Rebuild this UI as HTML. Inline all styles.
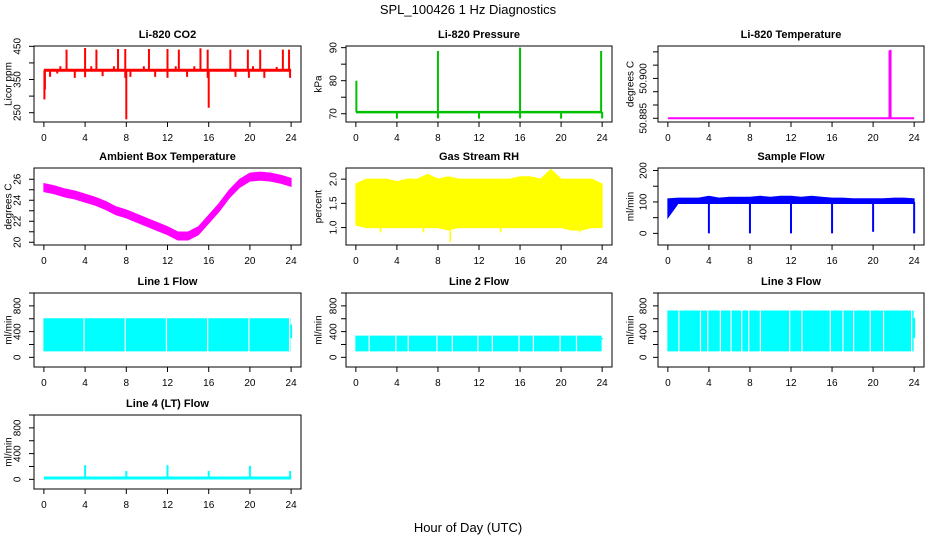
<!DOCTYPE html>
<html><head><meta charset="utf-8"><style>
html,body{margin:0;padding:0;background:#fff;}
svg{display:block;font-family:"Liberation Sans",Arial,sans-serif;}
</style></head><body>
<svg id="c" width="936" height="540" viewBox="0 0 936 540" xmlns="http://www.w3.org/2000/svg">
<text x="468" y="14" text-anchor="middle" font-size="13">SPL_100426  1 Hz Diagnostics</text>
<text x="468" y="532" text-anchor="middle" font-size="13">Hour of Day (UTC)</text>
</svg>
<script>
// ---------- data ----------
const xTicks = [0,4,8,12,16,20,24];
// CO2
const co2BaseHours = [0,24];
const co2BaseVals = [378,378];
const co2SpikeHours = [2.2,4.0,5.1,7.2,7.9,10.2,12.0,13.1,15.2,15.9,18.1,19.8,21.0,23.2,23.8,1.6,4.6,6.8,9.7,12.8,14.6,20.3,22.6];
const co2SpikeVals = [440,445,440,442,442,442,442,440,444,440,440,440,440,440,440,390,390,390,390,390,390,390,388];
const co2DipHours = [0.05,0.1,8.0,7.9,16.0,15.9,12.0,19.9,3.0,4.0,0.6,23.9,8.4,1.3,10.8,13.9,18.6,21.4,5.7];
const co2DipVals = [290,320,230,355,265,355,355,355,355,357,358,355,358,368,358,358,358,355,360];
// Pressure
const presBaseHours = [0,24];
const presBaseVals = [70.5,70.5];
const presSpikeHours = [0.05,8.0,16.0,23.9];
const presSpikeVals = [80,89,90,89];
const presDipHours = [4,8,12,16,20,24];
const presDipVals = [68.5,68.6,68.5,68.6,68.5,68.6];
// Li-820 temperature
const tempBaseHours = [0,24];
const tempBaseVals = [50.885,50.885];
const tempSpikeHours = [21.6,21.7];
const tempSpikeVals = [50.9105,50.9108];
// Ambient box temperature
const hours = [0,1,2,3,4,5,6,7,8,9,10,11,12,13,14,15,16,17,18,19,20,21,22,23,24];
const ambCenter = [25.2,25.0,24.7,24.5,24.2,23.9,23.5,23.0,22.7,22.3,21.9,21.5,21.1,20.6,20.6,21.1,22.2,23.3,24.6,25.6,26.2,26.3,26.2,26.0,25.7];
// Gas stream RH
const rhLow = [1.05,1.0,1.0,1.0,1.0,1.0,1.0,1.0,1.0,0.95,1.0,1.0,1.0,1.0,1.0,1.0,1.0,1.0,1.0,1.0,1.0,0.95,0.95,1.0,1.0];
const rhHigh = [1.9,2.0,2.0,2.0,1.95,2.0,2.0,2.1,2.0,2.05,2.0,2.0,2.0,2.0,2.0,2.0,2.05,2.05,2.0,2.2,2.0,2.0,2.0,2.0,1.9];
const rhDipHours = [9.2,2.4,6.6,14.1,21.8];
const rhDipVals = [0.7,0.9,0.9,0.9,0.9];
// Sample flow
const sfLow = [50,95,95,95,95,95,95,95,95,95,95,95,95,95,95,95,95,95,95,95,95,95,95,95,95];
const sfHigh = [110,112,112,112,118,112,115,115,115,118,115,118,118,115,118,115,112,112,110,110,110,110,112,112,110];
const sfDipHours = [4,8,12,16,20,24];
const sfDipVals = [0,0,0,0,5,0];
// Line flows
const l1Low = 100, l1High = 600;
const l1Gaps = [3.9,7.9,11.9,15.9,19.9,23.85];
const l2Low = 100, l2High = 330;
const l2Gaps = [3.9,7.9,11.9,15.9,19.9,1.3,5.1,9.4,13.3,17.3,21.5];
const l3Low = 100, l3High = 720;
const l3Gaps = [1.07,3.18,3.89,5.12,6.16,7.2,7.88,9.02,11.87,13.07,15.83,17.06,18.1,19.72,21.02,23.75];
const l4Base = 20;
const l4SpikeHours = [4,8,12,16,20,23.9];
const l4SpikeVals = [220,130,220,130,210,130];

// ---------- layout ----------
const svg = document.getElementById('c');
const NS = 'http://www.w3.org/2000/svg';
const cols = [[34,301,17,8],[346,612,333,318],[658,924,643,630]];
const rows = [[46,122],[168,245],[293,367],[415,489]];
function el(tag, attrs, parent){const e=document.createElementNS(NS,tag);for(const k in attrs)e.setAttribute(k,attrs[k]);(parent||svg).appendChild(e);return e;}

function panel(name,col,row,title,ytitle,ylim,yticks,ylabels){
  const [bl,br,tlx,ytx]=cols[col];const [bt,bb]=rows[row];
  const g=el('g',{});
  
  
  const pl=bl+(br-bl)*0.04/1.08, pr=br-(br-bl)*0.04/1.08;
  const xs=h=>pl+(pr-pl)*h/24;
  const ys=v=>bb-(bb-bt)*(v-ylim[0])/(ylim[1]-ylim[0]);
  const t=el('text',{x:(bl+br)/2,y:bt-8,'text-anchor':'middle','font-size':11,'font-weight':'bold'},g);
  t.textContent=title;
  
  
  const yt=el('text',{x:ytx,y:(bt+bb)/2,'text-anchor':'middle','font-size':10,transform:`rotate(-90 ${ytx} ${(bt+bb)/2})`,dy:'0.35em'},g);
  yt.textContent=ytitle;
  
  
  const marks=el('g',{},g);
  
  
  return {g,marks,xs,ys,bl,br,bt,bb,tlx,pl,pr,yticks,ylabels,name};
}
function axes(p){
  const g=p.g;
  el('rect',{x:p.bl,y:p.bt,width:p.br-p.bl,height:p.bb-p.bt,fill:'none',stroke:'#000','stroke-width':1},g);
  el('line',{x1:p.xs(0),x2:p.xs(24),y1:p.bb,y2:p.bb,stroke:'#000'},g);
  xTicks.forEach(h=>{
    el('line',{x1:p.xs(h),x2:p.xs(h),y1:p.bb,y2:p.bb+5,stroke:'#000'},g);
    const t=el('text',{x:p.xs(h),y:p.bb+19,'text-anchor':'middle','font-size':10},g);
    t.textContent=h;
    
    
  });
  el('line',{x1:p.bl,x2:p.bl,y1:p.ys(p.yticks[0]),y2:p.ys(p.yticks[p.yticks.length-1]),stroke:'#000'},g);
  p.yticks.forEach(v=>{el('line',{x1:p.bl-5,x2:p.bl,y1:p.ys(v),y2:p.ys(v),stroke:'#000'},g);});
  p.ylabels.forEach(v=>{
    const y=p.ys(v);
    const t=el('text',{x:p.tlx,y:y,'text-anchor':'middle','font-size':10,dy:'0.35em',transform:`rotate(-90 ${p.tlx} ${y})`},g);
    t.textContent=v;
    
    
  });
}
function line(p,hs,vs,color,w){el('polyline',{points:hs.map((h,i)=>p.xs(h)+','+p.ys(vs[i])).join(' '),fill:'none',stroke:color,'stroke-width':w},p.marks);}
function vseg(p,hs,base,vs,color,w){hs.forEach((h,i)=>{el('line',{x1:p.xs(h),x2:p.xs(h),y1:p.ys(base),y2:p.ys(vs[i]),stroke:color,'stroke-width':w},p.marks);});}
function band(p,hs,lo,hi,color){
  const pts=hs.map((h,i)=>p.xs(h)+','+p.ys(lo[i])).concat(hs.slice().reverse().map((h,j)=>{const i=hs.length-1-j;return p.xs(h)+','+p.ys(hi[i]);}));
  el('polygon',{points:pts.join(' '),fill:color,stroke:color,'stroke-width':1},p.marks);
}

// CO2
let p=panel('co2',0,0,'Li-820 CO2','Licor ppm',[222,451],[250,300,350,400,450],[250,350,450]);
line(p,co2BaseHours,co2BaseVals,'#f00',3);
vseg(p,co2SpikeHours,378,co2SpikeVals,'#f00',2);
vseg(p,co2DipHours,378,co2DipVals,'#f00',2);
axes(p);
// Pressure
p=panel('pressure',1,0,'Li-820 Pressure','kPa',[67.5,90.5],[70,75,80,85,90],[70,80,90]);
line(p,presBaseHours,presBaseVals,'#00c000',2.5);
vseg(p,presSpikeHours,70.5,presSpikeVals,'#00c000',2);
vseg(p,presDipHours,70.5,presDipVals,'#00c000',2);
axes(p);
// Temperature
p=panel('li820-temperature',2,0,'Li-820 Temperature','degrees C',[50.8836,50.9122],[50.885,50.89,50.895,50.9,50.905,50.91],['50.885','50.900']);
line(p,tempBaseHours,tempBaseVals,'#f0f',2);
vseg(p,tempSpikeHours,50.885,tempSpikeVals,'#f0f',2);
axes(p);
// Ambient
p=panel('ambient-temperature',0,1,'Ambient Box Temperature','degrees C',[19.74,27.07],[20,21,22,23,24,25,26],[20,22,24,26]);
band(p,hours,ambCenter.map(v=>v-0.38),ambCenter.map(v=>v+0.38),'#f0f');
axes(p);
// RH
p=panel('gas-stream-rh',1,1,'Gas Stream RH','percent',[0.64,2.23],[1.0,1.5,2.0],['1.0','1.5','2.0']);
band(p,hours,rhLow,rhHigh,'#ff0');
vseg(p,rhDipHours,1.2,rhDipVals,'#ff0',1.5);
axes(p);
// Sample flow
p=panel('sample-flow',2,1,'Sample Flow','ml/min',[-37,208],[0,50,100,150,200],[0,100,200]);
band(p,hours,sfLow,sfHigh,'#00f');
vseg(p,sfDipHours,100,sfDipVals,'#00f',2);
axes(p);
// Line flows
function flow(name,col,row,title,lo,hi,gaps){
  const q=panel(name,col,row,title,'ml/min',[-150,1000],[0,200,400,600,800,1000],[0,400,800]);
  band(q,[0,23.9],[lo,lo],[hi,hi],'#0ff');
  vseg(q,[24],lo*3,[hi*0.85],'#0ff',2);
  gaps.forEach(h=>{el('line',{x1:q.xs(h),x2:q.xs(h),y1:q.ys(lo)+1,y2:q.ys(hi)-1,stroke:'#fff','stroke-width':1.2},q.marks);});
  axes(q);
}
flow('line1-flow',0,2,'Line 1 Flow',l1Low,l1High,l1Gaps);
flow('line2-flow',1,2,'Line 2 Flow',l2Low,l2High,l2Gaps);
flow('line3-flow',2,2,'Line 3 Flow',l3Low,l3High,l3Gaps);
p=panel('line4-flow',0,3,'Line 4 (LT) Flow','ml/min',[-150,1000],[0,200,400,600,800,1000],[0,400,800]);
line(p,[0,24],[l4Base,l4Base],'#0ff',3);
vseg(p,l4SpikeHours,l4Base,l4SpikeVals,'#0ff',2);
axes(p);
</script>
</body></html>
